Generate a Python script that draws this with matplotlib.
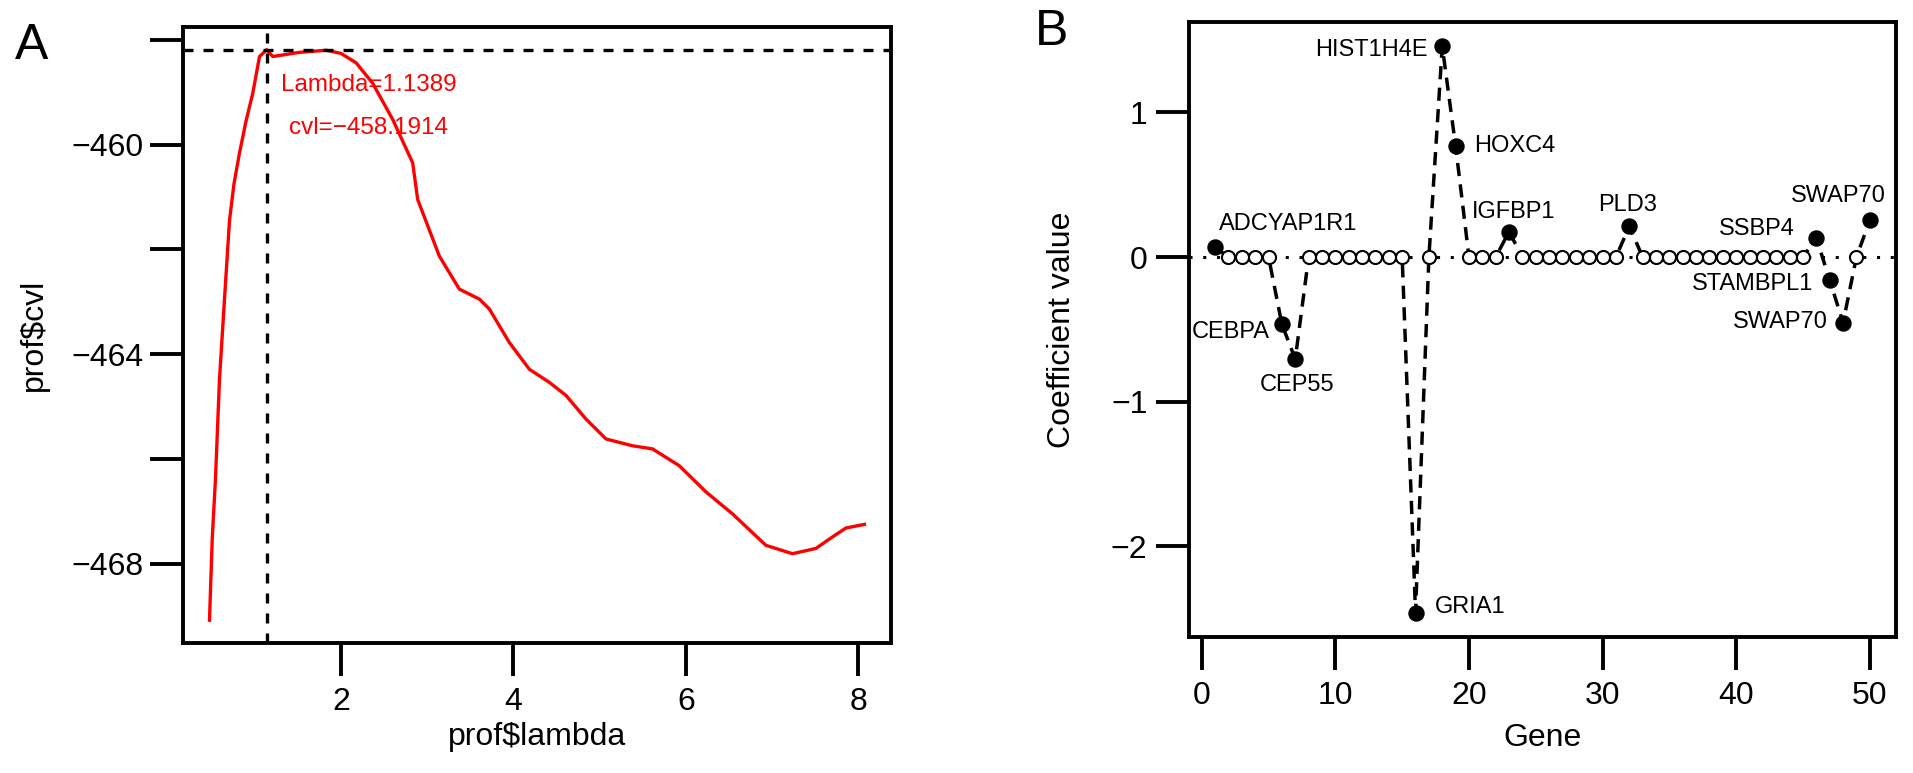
import numpy as np
import matplotlib
matplotlib.use('Agg')
import matplotlib.pyplot as plt

plt.rcParams['font.family'] = ['Liberation Sans', 'DejaVu Sans']

# panel A: cross-validated likelihood profile
lam = [0.476, 0.508, 0.546, 0.592, 0.65, 0.708, 0.76, 0.824, 0.9, 0.978, 1.056, 1.1389,
       1.21, 1.52, 1.83, 2.0, 2.176, 2.368, 2.60, 2.832, 2.89, 3.141, 3.373,
       3.605, 3.721, 3.953, 4.185, 4.417, 4.61, 4.841, 5.073, 5.381, 5.613,
       5.922, 6.232, 6.54, 6.927, 7.235, 7.506, 7.699, 7.854, 8.07]
cvl = [-469.08, -467.52, -466.36, -464.48, -462.95, -461.45, -460.75, -460.16, -459.55, -459.02, -458.32, -458.19,
       -458.32, -458.24, -458.20, -458.26, -458.44, -458.83, -459.52, -460.35, -461.05, -462.13, -462.76,
       -462.95, -463.14, -463.78, -464.29, -464.54, -464.79, -465.24, -465.62, -465.75, -465.81,
       -466.13, -466.63, -467.05, -467.65, -467.81, -467.71, -467.49, -467.32, -467.25]
best_lambda = 1.1389
best_cvl = -458.1914

# panel B: coefficients per gene
genes = np.arange(1, 51)
coef = [0.068, 0, 0, 0, 0, -0.466, -0.705, 0, 0, 0,
        0, 0, 0, 0, 0, -2.459, 0, 1.457, 0.767, 0,
        0, 0, 0.175, 0, 0, 0, 0, 0, 0, 0,
        0, 0.212, 0, 0, 0, 0, 0, 0, 0, 0,
        0, 0, 0, 0, 0, 0.132, -0.16, -0.454, 0, 0.253]
gene_names = ['ADCYAP1R1', 'CEBPA', 'CEP55', 'GRIA1', 'HIST1H4E', 'HOXC4',
              'IGFBP1', 'PLD3', 'SSBP4', 'STAMBPL1', 'SWAP70', 'SWAP70']
label_x = [1.28, 5.12, 7.13, 17.46, 16.94, 20.37, 23.35, 31.9, 44.37, 45.8, 46.88, 47.66]
label_y = [0.228, -0.518, -0.884, -2.42, 1.43, 0.767, 0.31, 0.361, 0.197, -0.187, -0.45, 0.425]
label_ha = ['left', 'right', 'center', 'left', 'right', 'left',
            'center', 'center', 'right', 'right', 'right', 'center']

LW = 2.8
FS = 23

fig = plt.figure(figsize=(19.13, 7.73), dpi=100)

# ---- A ----
ax = fig.add_axes([0.0958, 0.1678, 0.3698, 0.7977])
ax.plot(lam, cvl, color='red', lw=2.4, solid_joinstyle='round')
ax.axvline(best_lambda, color='black', lw=2.4, ls=(0, (3.0, 3.0)))
ax.axhline(best_cvl, color='black', lw=2.4, ls=(0, (3.0, 3.0)))
ax.text(2.32, -458.86, 'Lambda=1.1389', color='red', fontsize=17.5, ha='center', va='center')
ax.text(2.32, -459.68, 'cvl=\u2212458.1914', color='red', fontsize=17.5, ha='center', va='center')
ax.set_xlim(0.172, 8.374)
ax.set_ylim(-469.52, -457.75)
ax.set_xticks([2, 4, 6, 8])
ax.set_yticks([-468, -466, -464, -462, -460, -458])
ax.set_yticklabels(['\u2212468', '', '\u2212464', '', '\u2212460', ''])
ax.tick_params(axis='both', direction='out', length=23.8, width=LW, labelsize=FS)
ax.tick_params(axis='x', pad=8)
ax.tick_params(axis='y', pad=5)
for s in ax.spines.values():
    s.set_linewidth(LW)
ax.set_xlabel('prof$lambda', fontsize=FS)
ax.set_ylabel('prof$cvl', fontsize=FS)
ax.xaxis.set_label_coords(0.5, -0.128)
ax.yaxis.set_label_coords(-0.19, 0.5)
fig.text(32 / 1913, 1 - 46 / 773, 'A', fontsize=36, ha='center', va='center')

# ---- B ----
bx = fig.add_axes([0.6215, 0.176, 0.3696, 0.7955])
bx.axhline(0, color='black', lw=2.2, ls=(0, (1, 3.5)), zorder=1)
bx.plot(genes, coef, color='black', lw=2.5, ls=(0, (3.8, 2.4)), zorder=2)
coef_arr = np.array(coef)
zero = coef_arr == 0
bx.plot(genes[zero], coef_arr[zero], 'o', ms=9.4, mfc='white', mec='black', mew=1.5, zorder=3)
bx.plot(genes[~zero], coef_arr[~zero], 'o', ms=10.8, mfc='black', mec='black', zorder=3)
for name, x, y, ha in zip(gene_names, label_x, label_y, label_ha):
    bx.text(x, y, name, fontsize=17, ha=ha, va='center')
bx.set_xlim(-0.96, 51.96)
bx.set_ylim(-2.627, 1.625)
bx.set_xticks([0, 10, 20, 30, 40, 50])
bx.set_yticks([-2, -1, 0, 1])
bx.set_yticklabels(['\u22122', '\u22121', '0', '1'])
bx.tick_params(axis='both', direction='out', length=23.8, width=LW, labelsize=FS)
bx.tick_params(axis='x', pad=8)
bx.tick_params(axis='y', pad=6)
for s in bx.spines.values():
    s.set_linewidth(LW)
bx.set_xlabel('Gene', fontsize=FS)
bx.set_ylabel('Coefficient value', fontsize=FS)
bx.xaxis.set_label_coords(0.5, -0.14)
bx.yaxis.set_label_coords(-0.158, 0.5)
fig.text(1052 / 1913, 1 - 32 / 773, 'B', fontsize=36, ha='center', va='center')

fig.savefig('out.png', dpi=100)
